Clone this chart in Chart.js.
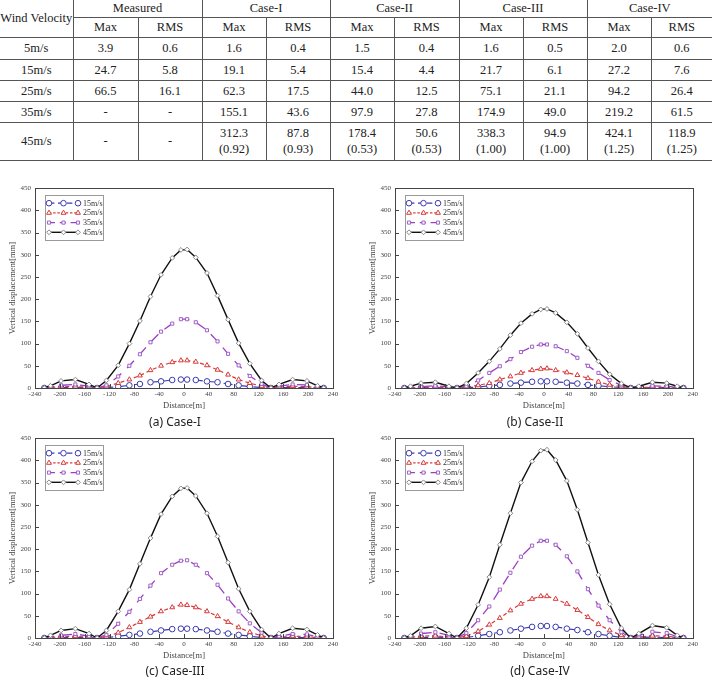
<!DOCTYPE html>
<html>
<head>
<meta charset="utf-8">
<script src="https://cdn.jsdelivr.net/npm/chart.js@4.4.1/dist/chart.umd.min.js"></script>
<style>
  body { margin: 0; width: 712px; height: 680px; background: #fff; position: relative; overflow: hidden; }
  #tbl { position: absolute; left: 0; top: 0; width: 712px; border-collapse: collapse; table-layout: fixed;
         font-family: "Liberation Serif", serif; font-size: 12.5px; color: #222; }
  #tbl td { border: 1px solid #555; text-align: center; padding: 0; line-height: 16px; white-space: pre-line; font-weight: 400; }
  #tbl tr:first-child td { border-top: none; }
  #tbl td:first-child { border-left: none; }
  #tbl td:last-child { border-right: none; }
  canvas { position: absolute; }
  .cap { position: absolute; width: 200px; text-align: center; font-family: "Noto Sans", sans-serif; font-size: 12px; color: #222; }
</style>
</head>
<body>
<table id="tbl">
  <colgroup>
    <col style="width:73px"><col style="width:65px"><col style="width:64px"><col style="width:64px">
    <col style="width:64px"><col style="width:64px"><col style="width:65px"><col style="width:64px">
    <col style="width:64px"><col style="width:64px"><col style="width:61px">
  </colgroup>
  <tbody id="tbody"></tbody>
</table>

<canvas id="chartA" width="345" height="235" style="left:0px;top:180px"></canvas>
<canvas id="chartB" width="340" height="235" style="left:360px;top:180px"></canvas>
<canvas id="chartC" width="345" height="235" style="left:0px;top:430px"></canvas>
<canvas id="chartD" width="340" height="235" style="left:360px;top:430px"></canvas>

<div class="cap" style="left:75px;top:413px">(a) Case-I</div>
<div class="cap" style="left:435px;top:413px">(b) Case-II</div>
<div class="cap" style="left:75px;top:662px">(c) Case-III</div>
<div class="cap" style="left:440px;top:662px">(d) Case-IV</div>

<script>
// Table data
const windSpeeds = ["5m/s", "15m/s", "25m/s", "35m/s", "45m/s"];
const caseNames = ["Measured", "Case-I", "Case-II", "Case-III", "Case-IV"];
const measuredMax = ["3.9", "24.7", "66.5", "-", "-"];
const measuredRms = ["0.6", "5.8", "16.1", "-", "-"];
const case1Max = ["1.6", "19.1", "62.3", "155.1", "312.3\n(0.92)"];
const case1Rms = ["0.4", "5.4", "17.5", "43.6", "87.8\n(0.93)"];
const case2Max = ["1.5", "15.4", "44.0", "97.9", "178.4\n(0.53)"];
const case2Rms = ["0.4", "4.4", "12.5", "27.8", "50.6\n(0.53)"];
const case3Max = ["1.6", "21.7", "75.1", "174.9", "338.3\n(1.00)"];
const case3Rms = ["0.5", "6.1", "21.1", "49.0", "94.9\n(1.00)"];
const case4Max = ["2.0", "27.2", "94.2", "219.2", "424.1\n(1.25)"];
const case4Rms = ["0.6", "7.6", "26.4", "61.5", "118.9\n(1.25)"];

// Chart data
const distance = [-225, -215, -198, -175, -153, -140, -125, -106, -88, -71, -54, -37, -19, -5,
                  5, 19, 37, 54, 71, 88, 106, 125, 140, 153, 175, 198, 215, 225];
const xTicks = { min: -240, max: 240, step: 40 };
const yTicks = { min: 0, max: 450, step: 50 };
const speedLabels = ["15m/s", "25m/s", "35m/s", "45m/s"];

const caseI_15 = [0, 0, 1, 1, 1, 0, 1, 3, 6, 9, 13, 15, 18, 19, 19, 18, 15, 13, 9, 6, 3, 1, 0, 1, 1, 1, 0, 0];
const caseI_25 = [0, 1, 3, 3, 2, 0, 3, 11, 19, 28, 40, 50, 58, 62, 62, 59, 51, 41, 30, 19, 11, 4, 0, 2, 4, 3, 1, 0];
const caseI_35 = [0, 2, 6, 8, 4, 0, 6, 26, 50, 76, 103, 127, 145, 155, 155, 148, 130, 105, 77, 51, 27, 9, 0, 4, 8, 7, 3, 0];
const caseI_45 = [0, 5, 16, 19, 8, 0, 17, 51, 100, 151, 206, 255, 293, 311, 312, 294, 259, 208, 154, 101, 55, 17, 0, 8, 19, 16, 5, 0];

const caseII_15 = [0, 0, 1, 1, 0, 0, 1, 2, 5, 7, 10, 12, 14, 15, 15, 14, 12, 10, 7, 5, 3, 1, 0, 0, 1, 1, 0, 0];
const caseII_25 = [0, 0, 2, 2, 1, 0, 2, 6, 11, 19, 26, 34, 40, 43, 44, 40, 35, 29, 22, 14, 7, 3, 0, 1, 2, 2, 0, 0];
const caseII_35 = [0, 1, 3, 5, 2, 0, 4, 17, 34, 49, 65, 81, 93, 98, 98, 94, 83, 68, 50, 34, 18, 6, 0, 2, 5, 4, 1, 0];
const caseII_45 = [0, 4, 11, 13, 4, 0, 10, 34, 60, 88, 119, 146, 167, 177, 178, 169, 148, 122, 90, 60, 31, 10, 0, 4, 13, 11, 4, 0];

const caseIII_15 = [0, 0, 1, 1, 1, 0, 1, 4, 7, 10, 14, 17, 20, 21, 21, 20, 17, 14, 10, 7, 4, 1, 0, 1, 1, 1, 0, 0];
const caseIII_25 = [0, 1, 3, 4, 2, 0, 3, 12, 24, 36, 48, 60, 69, 75, 74, 69, 60, 49, 36, 24, 13, 5, 0, 2, 4, 3, 1, 0];
const caseIII_35 = [0, 2, 6, 9, 4, 0, 7, 32, 59, 88, 118, 146, 165, 174, 175, 165, 146, 120, 89, 60, 33, 12, 0, 4, 9, 8, 3, 0];
const caseIII_45 = [0, 6, 17, 21, 10, 0, 17, 60, 109, 167, 225, 279, 319, 337, 338, 320, 281, 229, 170, 111, 60, 19, 0, 10, 22, 19, 7, 0];

const caseIV_15 = [0, 0, 1, 2, 1, 0, 1, 5, 9, 13, 17, 21, 25, 27, 27, 25, 21, 18, 13, 9, 5, 1, 0, 1, 2, 1, 0, 0];
const caseIV_25 = [0, 1, 4, 5, 2, 0, 4, 15, 30, 45, 62, 77, 88, 94, 94, 88, 77, 63, 47, 31, 17, 6, 0, 2, 5, 4, 1, 0];
const caseIV_35 = [0, 3, 10, 13, 6, 0, 11, 40, 71, 109, 147, 183, 208, 219, 219, 210, 184, 150, 110, 73, 40, 13, 0, 6, 14, 11, 3, 0];
const caseIV_45 = [0, 5, 22, 26, 10, 0, 22, 75, 137, 210, 281, 350, 398, 422, 424, 401, 354, 289, 215, 142, 76, 22, 0, 10, 28, 23, 6, 0];

// Build the table
function buildTable() {
    const tbody = document.getElementById("tbody");
    const rowHeights = [22, 21, 21, 21, 38];
    let html = '<tr style="height:17px"><td rowspan="2">Wind Velocity</td>';
    caseNames.forEach(name => { html += '<td colspan="2">' + name + '</td>'; });
    html += '</tr><tr style="height:20px">';
    caseNames.forEach(() => { html += '<td>Max</td><td>RMS</td>'; });
    html += '</tr>';
    const cols = [measuredMax, measuredRms, case1Max, case1Rms, case2Max, case2Rms,
                  case3Max, case3Rms, case4Max, case4Rms];
    windSpeeds.forEach((speed, i) => {
        html += '<tr style="height:' + rowHeights[i] + 'px"><td>' + speed + '</td>';
        cols.forEach(col => { html += '<td>' + col[i] + '</td>'; });
        html += '</tr>';
    });
    tbody.innerHTML = html;
}

// Series styles
const seriesStyles = [
    { color: "#3a3ab0", dash: [9, 6], pointStyle: "circle", radius: 2.8, pointColor: "#3a3ab0", width: 1.2 },
    { color: "#d83a3a", dash: [4, 3], pointStyle: "triangle", radius: 2.8, pointColor: "#d83a3a", width: 1.2 },
    { color: "#9b3fc6", dash: [10, 8], pointStyle: "rect", radius: 2.2, pointColor: "#a060c8", width: 1.3 },
    { color: "#111111", dash: [], pointStyle: "rectRot", radius: 2.4, pointColor: "#888888", width: 1.4 },
];

function drawMarker(ctx, style, x, y) {
    ctx.setLineDash([]);
    ctx.strokeStyle = style.pointColor;
    ctx.fillStyle = "#ffffff";
    ctx.lineWidth = 1;
    Chart.helpers.drawPoint(ctx, { pointStyle: style.pointStyle, radius: style.radius, borderWidth: 1, rotation: 0 }, x, y);
}

// Frame, inner ticks and boxed legend
const framePlugin = {
    id: "frameLegend",
    afterDraw(chart) {
        const ctx = chart.ctx;
        const a = chart.chartArea;
        ctx.save();
        ctx.strokeStyle = "#444";
        ctx.lineWidth = 1;
        ctx.strokeRect(Math.round(a.left) + 0.5, Math.round(a.top) + 0.5, Math.round(a.right - a.left), Math.round(a.bottom - a.top));

        // inner ticks
        ctx.beginPath();
        chart.scales.x.ticks.forEach(t => {
            const px = Math.round(chart.scales.x.getPixelForValue(t.value)) + 0.5;
            ctx.moveTo(px, a.bottom);
            ctx.lineTo(px, a.bottom - 4);
        });
        chart.scales.y.ticks.forEach(t => {
            const py = Math.round(chart.scales.y.getPixelForValue(t.value)) + 0.5;
            ctx.moveTo(a.left, py);
            ctx.lineTo(a.left + 4, py);
        });
        ctx.stroke();

        // legend box
        ctx.strokeStyle = "#999";
        ctx.strokeRect(Math.round(a.left) + 10.5, Math.round(a.top) + 7.5, 58, 45);
        ctx.font = "8px 'Liberation Serif'";
        ctx.textBaseline = "middle";
        chart.data.datasets.forEach((ds, i) => {
            const st = seriesStyles[i];
            const y = a.top + 15 + i * 9.7;
            const x0 = a.left + 14, x1 = a.left + 43;
            ctx.setLineDash(st.dash.map(d => d * 0.6));
            ctx.strokeStyle = st.color;
            ctx.lineWidth = st.width;
            ctx.beginPath();
            ctx.moveTo(x0, y);
            ctx.lineTo(x1, y);
            ctx.stroke();
            [x0, (x0 + x1) / 2, x1].forEach(x => drawMarker(ctx, st, x, y));
            ctx.fillStyle = "#333";
            ctx.fillText(ds.label, a.left + 48, y + 0.5);
        });
        ctx.restore();
    }
};

function makeChart(id, seriesList) {
    const ctx = document.getElementById(id).getContext("2d");
    const datasets = seriesList.map((vals, i) => {
        const st = seriesStyles[i];
        return {
            label: speedLabels[i],
            data: distance.map((x, j) => ({ x: x, y: vals[j] })),
            borderColor: st.color,
            borderWidth: st.width,
            borderDash: st.dash,
            pointStyle: st.pointStyle,
            pointRadius: st.radius,
            pointBorderColor: st.pointColor,
            pointBackgroundColor: "#ffffff",
            pointBorderWidth: 1,
            tension: 0,
            fill: false,
        };
    });
    // draw the 45m/s line underneath the smaller ones
    datasets.forEach((d, i) => { d.order = 4 - i; });

    return new Chart(ctx, {
        type: "line",
        data: { datasets: datasets },
        options: {
            responsive: false,
            animation: false,
            devicePixelRatio: 1,
            layout: { padding: { top: 8, right: id === "chartA" || id === "chartC" ? 12 : 6, left: 0, bottom: 0 } },
            plugins: { legend: { display: false }, tooltip: { enabled: false } },
            scales: {
                x: {
                    type: "linear",
                    min: xTicks.min,
                    max: xTicks.max,
                    afterFit: s => { s.height = 27; },
                    ticks: { stepSize: xTicks.step, color: "#444", padding: 2, font: { size: 7, family: "Liberation Serif" } },
                    grid: { display: false, drawTicks: false },
                    border: { display: false },
                    title: { display: true, text: "Distance[m]", color: "#444", padding: { top: 0, bottom: 4 },
                             font: { size: 8.5, family: "Liberation Serif" } },
                },
                y: {
                    min: yTicks.min,
                    max: yTicks.max,
                    afterFit: s => { s.width = 35; },
                    ticks: { stepSize: yTicks.step, color: "#444", padding: 4, font: { size: 7, family: "Liberation Serif" } },
                    grid: { display: false, drawTicks: false },
                    border: { display: false },
                    title: { display: true, text: "Vertical displacement[mm]", color: "#444", padding: { top: 8, bottom: 0 },
                             font: { size: 8.5, family: "Liberation Serif" } },
                },
            },
        },
        plugins: [framePlugin],
    });
}

document.addEventListener("DOMContentLoaded", () => {
    buildTable();
    makeChart("chartA", [caseI_15, caseI_25, caseI_35, caseI_45]);
    makeChart("chartB", [caseII_15, caseII_25, caseII_35, caseII_45]);
    makeChart("chartC", [caseIII_15, caseIII_25, caseIII_35, caseIII_45]);
    makeChart("chartD", [caseIV_15, caseIV_25, caseIV_35, caseIV_45]);
});
</script>
</body>
</html>
